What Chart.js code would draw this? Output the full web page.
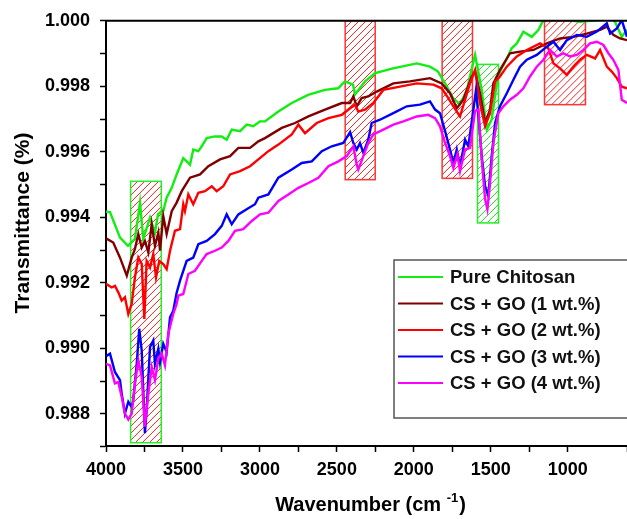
<!DOCTYPE html>
<html lang="en">
<head>
    <meta charset="UTF-8">
    <title>FTIR Transmittance</title>
    <script src="https://cdn.jsdelivr.net/npm/chart.js"></script>
    <style>
        html, body { margin: 0; padding: 0; background: #fff; }
        #ftirChart { display: block; }
    </style>
</head>
<body>
    <canvas id="ftirChart" width="627" height="519"></canvas>

    <script>
        // spectra: wavenumber (cm-1) and transmittance
        const wnPure = [4000,3974,3909,3857,3812,3779,3758,3714,3682,3662,3638,3628,3606,3573,3541,3498,3476,3454,3433,3400,3378,3346,3292,3248,3216,3183,3129,3086,3043,2999,2967,2880,2793,2687,2577,2492,2447,2395,2382,2317,2252,2135,1981,1895,1843,1797,1745,1700,1656,1602,1559,1526,1494,1461,1440,1396,1364,1331,1288,1234,1191,1158,1050,920,790,725,693,649,615];
        const tPure = [0.99417,0.99416,0.99338,0.99313,0.99334,0.99445,0.99334,0.99399,0.99353,0.9941,0.99419,0.99419,0.9946,0.9949,0.99531,0.99581,0.99571,0.99561,0.99607,0.99602,0.99617,0.99642,0.99647,0.99647,0.99637,0.99668,0.99663,0.99683,0.99678,0.99693,0.99693,0.99723,0.99749,0.99774,0.99789,0.99794,0.99815,0.99805,0.99775,0.99815,0.9984,0.99855,0.9987,0.9986,0.99845,0.99809,0.99764,0.99745,0.99789,0.99896,0.99789,0.99668,0.99699,0.99809,0.99845,0.99885,0.99916,0.99931,0.99967,0.99951,0.99972,1.00002,1.00006,0.99997,1.00003,1.00009,0.99997,0.99951,0.99973];

        const wnGo1 = [4000,3953,3909,3865,3833,3812,3790,3768,3747,3725,3703,3682,3660,3649,3628,3606,3573,3541,3508,3454,3389,3335,3259,3194,3140,3064,3010,2967,2858,2772,2685,2577,2468,2414,2393,2371,2339,2296,2241,2133,2025,1895,1819,1765,1721,1678,1624,1602,1570,1537,1505,1483,1440,1375,1310,1223,1136,1050,963,876,790,746,704,660,615];
        const tGo1 = [0.99336,0.99323,0.99277,0.99222,0.99277,0.99304,0.99349,0.99308,0.99328,0.99293,0.99379,0.99313,0.99353,0.99298,0.99404,0.99349,0.99419,0.99445,0.9948,0.99521,0.99531,0.99556,0.99577,0.99587,0.99612,0.99612,0.99632,0.99642,0.99673,0.99688,0.99708,0.99729,0.99749,0.99749,0.99769,0.99739,0.99764,0.99769,0.99784,0.99809,0.99815,0.99825,0.99809,0.99779,0.99733,0.99759,0.9983,0.99845,0.99779,0.99688,0.99729,0.99809,0.9985,0.99901,0.99906,0.99911,0.99931,0.99946,0.99951,0.99961,0.99972,0.99982,0.99957,0.99946,0.99941];

        const wnGo2 = [4000,3963,3942,3920,3898,3877,3855,3833,3812,3790,3768,3751,3736,3714,3693,3675,3654,3628,3606,3584,3552,3519,3498,3487,3465,3433,3400,3357,3313,3281,3238,3194,3129,3064,3010,2945,2880,2793,2750,2707,2631,2555,2468,2414,2382,2361,2317,2263,2198,2090,1981,1873,1819,1776,1743,1700,1667,1635,1602,1570,1537,1505,1472,1440,1396,1331,1266,1180,1126,1093,1050,1006,963,920,876,822,790,746,714,681,649,615];
        const tGo2 = [0.99197,0.99186,0.99191,0.99171,0.99146,0.99156,0.99105,0.99136,0.99217,0.99277,0.99258,0.9909,0.99267,0.99247,0.99288,0.99217,0.99267,0.99257,0.99242,0.99298,0.99359,0.99364,0.9944,0.99419,0.9947,0.9944,0.99475,0.9948,0.99495,0.9948,0.99495,0.99531,0.99541,0.99556,0.99577,0.99602,0.99622,0.99653,0.99683,0.99657,0.99688,0.99703,0.99713,0.99733,0.99744,0.99723,0.99729,0.99749,0.99789,0.99799,0.99809,0.99805,0.99794,0.99764,0.99739,0.99708,0.99759,0.99809,0.9985,0.99749,0.99678,0.99718,0.99815,0.9983,0.9986,0.99891,0.99911,0.99931,0.99916,0.9987,0.99855,0.99835,0.9986,0.99881,0.99896,0.99885,0.99911,0.9986,0.99845,0.99825,0.99799,0.99794];

        const wnGo3 = [4000,3974,3942,3909,3898,3877,3855,3833,3823,3801,3784,3768,3747,3736,3714,3693,3682,3660,3649,3628,3606,3584,3563,3541,3519,3476,3433,3400,3346,3292,3248,3216,3183,3140,3086,3032,3010,2945,2880,2793,2728,2663,2598,2533,2458,2414,2393,2371,2350,2328,2296,2274,2220,2133,2046,1960,1895,1862,1830,1797,1765,1743,1721,1700,1667,1646,1613,1596,1580,1559,1537,1516,1494,1472,1440,1396,1353,1310,1266,1201,1136,1093,1050,1006,941,876,811,746,725,681,649,615];
        const tGo3 = [0.98976,0.98984,0.98928,0.98903,0.98862,0.98801,0.98837,0.98821,0.98842,0.98948,0.9906,0.98994,0.98741,0.98811,0.99004,0.99024,0.98953,0.98999,0.98958,0.99014,0.98989,0.99095,0.99115,0.9917,0.99207,0.99267,0.99277,0.99318,0.99328,0.99349,0.99374,0.99409,0.99379,0.99409,0.99425,0.9944,0.9946,0.9947,0.99521,0.99546,0.99566,0.99571,0.99602,0.99617,0.99627,0.9966,0.99627,0.99607,0.99627,0.99597,0.99637,0.99688,0.99698,0.99718,0.99739,0.99744,0.99754,0.99729,0.99718,0.99663,0.99607,0.99566,0.99607,0.99556,0.99637,0.99617,0.99729,0.99789,0.99708,0.99587,0.99495,0.99465,0.99587,0.99688,0.99739,0.99779,0.9982,0.9986,0.99881,0.99896,0.99921,0.99936,0.99911,0.99941,0.99957,0.99951,0.99967,0.99992,0.99961,0.99977,1.00002,0.99951];

        const wnGo4 = [4000,3974,3942,3920,3898,3877,3855,3833,3812,3790,3768,3747,3725,3703,3682,3660,3638,3617,3595,3563,3541,3530,3498,3465,3422,3378,3346,3292,3248,3205,3162,3108,3053,2999,2945,2880,2815,2750,2685,2620,2555,2490,2436,2393,2371,2361,2328,2296,2263,2198,2133,2068,1981,1906,1862,1830,1797,1765,1743,1717,1700,1667,1635,1602,1580,1559,1537,1522,1505,1483,1451,1418,1375,1331,1288,1245,1201,1158,1115,1071,1028,985,941,898,855,811,768,736,704,671,649,615];
        const tGo4 = [0.98953,0.98948,0.98893,0.98897,0.98852,0.98801,0.98783,0.98801,0.98893,0.98963,0.98913,0.98761,0.98862,0.98943,0.98903,0.98969,0.98984,0.98948,0.99045,0.99105,0.99136,0.99161,0.99166,0.99227,0.99237,0.99267,0.99288,0.99298,0.99308,0.99328,0.99359,0.99364,0.99389,0.99409,0.99414,0.9945,0.9947,0.9949,0.99505,0.99521,0.99556,0.99571,0.99587,0.99617,0.99561,0.99546,0.99587,0.99627,0.99653,0.99668,0.99683,0.99693,0.99708,0.99713,0.99703,0.99678,0.99627,0.99587,0.99551,0.99592,0.99541,0.99607,0.99612,0.99725,0.99729,0.99577,0.99455,0.99425,0.99505,0.99627,0.99718,0.99739,0.99759,0.99774,0.99794,0.9983,0.9986,0.99881,0.99911,0.99891,0.99901,0.99891,0.99896,0.99911,0.99931,0.99936,0.99926,0.99901,0.99881,0.9985,0.99759,0.99749];

        const seriesNames = ['Pure Chitosan', 'CS + GO (1 wt.%)', 'CS + GO (2 wt.%)', 'CS + GO (3 wt.%)', 'CS + GO (4 wt.%)'];
        const seriesColors = ['#11ee11', '#800000', '#ff0000', '#0000ff', '#ff00ff'];

        // highlighted bands: [wn from, wn to, T low, T high]
        const bandRanges = [[3840, 3641, 0.98712, 0.9951], [2446, 2251, 0.99515, 1.0], [1816, 1619, 0.99519, 1.0], [1586, 1450, 0.99383, 0.99867], [1151, 885, 0.99744, 1.0]];
        const bandEdge = ['#22ee22', '#ff3333', '#ff3333', '#22ee22', '#ff3333'];
        const bandHatch = ['#ff2222', '#ff2222', '#ff2222', '#22dd22', '#ff2222'];

        const xTickStep = 250;
        const yTickStep = 0.001;

        const font = "'Liberation Sans', Arial, sans-serif";
        const pairs = (xs, ys) => xs.map((v, i) => ({ x: v, y: ys[i] }));
        const allWn = [wnPure, wnGo1, wnGo2, wnGo3, wnGo4];
        const allT = [tPure, tGo1, tGo2, tGo3, tGo4];

        const decor = {
            id: 'decor',
            beforeDatasetsDraw(chart) {
                const { ctx, scales: { x, y } } = chart;
                bandRanges.forEach((b, i) => {
                    const x1 = Math.min(x.getPixelForValue(b[0]), x.getPixelForValue(b[1]));
                    const x2 = Math.max(x.getPixelForValue(b[0]), x.getPixelForValue(b[1]));
                    const y1 = y.getPixelForValue(b[3]);
                    const y2 = y.getPixelForValue(b[2]);
                    const w = x2 - x1, h = y2 - y1;
                    ctx.save();
                    ctx.beginPath();
                    ctx.rect(x1, y1, w, h);
                    ctx.clip();
                    ctx.strokeStyle = bandHatch[i];
                    ctx.lineWidth = 1;
                    ctx.beginPath();
                    for (let k = -h; k < w + h; k += 7) {
                        ctx.moveTo(x1 + k, y2);
                        ctx.lineTo(x1 + k + h, y1);
                    }
                    ctx.stroke();
                    ctx.restore();
                    ctx.save();
                    ctx.strokeStyle = bandEdge[i];
                    ctx.lineWidth = 1.5;
                    ctx.strokeRect(x1, y1, w, h);
                    ctx.restore();
                });
            },
            afterDraw(chart) {
                const { ctx, chartArea } = chart;
                ctx.save();
                // top frame
                ctx.strokeStyle = '#000';
                ctx.lineWidth = 2;
                ctx.beginPath();
                ctx.moveTo(chartArea.left - 1, chartArea.top);
                ctx.lineTo(chart.width, chartArea.top);
                ctx.stroke();

                // legend
                ctx.fillStyle = '#fff';
                ctx.fillRect(394, 260, 240, 158);
                ctx.strokeStyle = '#555';
                ctx.lineWidth = 1.5;
                ctx.strokeRect(394, 260, 240, 158);
                ctx.font = 'bold 18.5px ' + font;
                ctx.textBaseline = 'middle';
                ctx.textAlign = 'left';
                seriesNames.forEach((name, i) => {
                    const ly = 277 + i * 26.5;
                    ctx.strokeStyle = seriesColors[i];
                    ctx.lineWidth = 2;
                    ctx.beginPath();
                    ctx.moveTo(398, ly);
                    ctx.lineTo(443, ly);
                    ctx.stroke();
                    ctx.fillStyle = '#111';
                    ctx.fillText(name, 450, ly + 1);
                });

                // axis titles
                ctx.fillStyle = '#000';
                ctx.save();
                ctx.translate(23, 223);
                ctx.rotate(-Math.PI / 2);
                ctx.textAlign = 'center';
                ctx.font = 'bold 21px ' + font;
                ctx.fillText('Transmittance (%)', 0, 0);
                ctx.restore();

                ctx.textBaseline = 'alphabetic';
                const big = 'bold 20px ' + font, small = 'bold 13px ' + font;
                ctx.font = big;
                const p1 = 'Wavenumber (cm ', p3 = ')';
                const w1 = ctx.measureText(p1).width, w3 = ctx.measureText(p3).width;
                ctx.font = small;
                const w2 = ctx.measureText('-1').width;
                let tx = 370 - (w1 + w2 + w3) / 2;
                ctx.font = big;
                ctx.fillText(p1, tx, 511);
                ctx.font = small;
                ctx.fillText('-1', tx + w1, 502);
                ctx.font = big;
                ctx.fillText(p3, tx + w1 + w2 + 1, 511);
                ctx.restore();
            }
        };

        const ctx = document.getElementById('ftirChart').getContext('2d');
        const ftirChart = new Chart(ctx, {
            type: 'line',
            data: {
                datasets: seriesNames.map((name, i) => ({
                    label: name,
                    data: pairs(allWn[i], allT[i]),
                    borderColor: seriesColors[i],
                    backgroundColor: seriesColors[i],
                    borderWidth: 2.4,
                    pointRadius: 0,
                    tension: 0,
                    fill: false,
                    clip: 0,
                    order: seriesNames.length - i
                }))
            },
            options: {
                responsive: false,
                animation: false,
                devicePixelRatio: 1,
                layout: { padding: { top: 19, left: 0, right: 0, bottom: 0 } },
                plugins: { legend: { display: false }, tooltip: { enabled: false } },
                scales: {
                    x: {
                        type: 'linear',
                        reverse: true,
                        min: 615,
                        max: 4000,
                        afterFit: (s) => { s.height = 73; s.paddingLeft = 0; s.paddingRight = 0; },
                        border: { display: true, color: '#000', width: 2 },
                        grid: { drawOnChartArea: false, drawTicks: true, tickLength: 6, tickColor: '#000', tickWidth: 1.5 },
                        ticks: {
                            stepSize: xTickStep,
                            maxTicksLimit: 100,
                            autoSkip: false,
                            maxRotation: 0,
                            padding: 7,
                            color: '#000',
                            font: { family: font, size: 18, weight: 'bold' },
                            callback: (v) => (Math.abs(v % 500) < 1e-6 ? String(v) : '')
                        }
                    },
                    y: {
                        min: 0.98702,
                        max: 1.0,
                        afterFit: (s) => { s.width = 106; },
                        border: { display: true, color: '#000', width: 2 },
                        grid: { drawOnChartArea: false, drawTicks: true, tickLength: 6, tickColor: '#000', tickWidth: 1.5 },
                        ticks: {
                            stepSize: yTickStep,
                            maxTicksLimit: 100,
                            autoSkip: false,
                            padding: 10,
                            color: '#000',
                            font: { family: font, size: 18, weight: 'bold' },
                            callback: (v) => {
                                const m = v * 1000;
                                const r = Math.round(m);
                                return (Math.abs(m - r) < 0.01 && r % 2 === 0) ? v.toFixed(3) : '';
                            }
                        }
                    }
                }
            },
            plugins: [decor]
        });
    </script>
</body>
</html>
